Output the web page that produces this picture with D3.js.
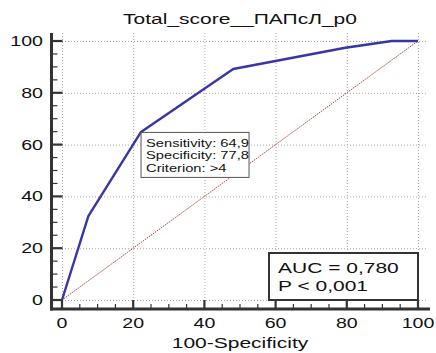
<!DOCTYPE html>
<html>
<head>
<meta charset="utf-8">
<script src="https://cdn.jsdelivr.net/npm/d3@7"></script>
<style>
  html, body { margin: 0; padding: 0; background: #fff; }
  svg { display: block; }
  text { font-family: "Liberation Sans", Arial, sans-serif; fill: #111; }
</style>
</head>
<body>
<svg id="chart" width="436" height="353"></svg>
<script>
// ROC curve points: 100-Specificity (x) and Sensitivity (y)
const fprValues = [0, 7.4, 22.2, 48.1, 79.6, 92.6, 100];
const tprValues = [0, 32.4, 64.9, 89.2, 97.4, 100, 100];
const tickValues = [0, 20, 40, 60, 80, 100];
const titleText = "Total_score__ПАПсЛ_p0";
const xLabelText = "100-Specificity";
const criterionLines = ["Sensitivity: 64,9", "Specificity: 77,8", "Criterion: >4"];
const criterionIndex = 2;
const statLines = ["AUC = 0,780", "P < 0,001"];

const svg = d3.select("#chart");
const SX = 1.4; // horizontal stretch of the lettering

const x = d3.scaleLinear().domain([0, 100]).range([62, 418]);
const y = d3.scaleLinear().domain([0, 100]).range([300, 41]);

const frame = { left: 51.5, right: 430, top: 33, bottom: 309 };
const gridRight = 428;

// Text drawn with a horizontal stretch around its anchor point
function stretchedText(g, tx, ty, str, size, anchor) {
  return g.append("text")
    .attr("transform", `translate(${tx},${ty}) scale(${SX},1)`)
    .attr("text-anchor", anchor || "start")
    .style("font-size", size + "px")
    .text(str);
}

// Dotted grid
const grid = svg.append("g").attr("stroke", "#a8a8a8").attr("stroke-width", 1)
  .attr("stroke-dasharray", "1,2");
grid.selectAll("line.v").data(tickValues).join("line")
  .attr("x1", d => x(d) + 0.5).attr("x2", d => x(d) + 0.5)
  .attr("y1", frame.top).attr("y2", y(0));
grid.selectAll("line.h").data(tickValues).join("line")
  .attr("x1", x(0)).attr("x2", gridRight)
  .attr("y1", d => y(d) + 0.5).attr("y2", d => y(d) + 0.5);

// Axes with inward ticks
const xAxis = d3.axisBottom(x).tickValues(tickValues).tickSize(0).tickFormat("");
const yAxis = d3.axisLeft(y).tickValues(tickValues).tickSize(0).tickFormat("");
svg.append("g").attr("transform", `translate(0,${frame.bottom})`).call(xAxis)
  .call(g => g.select(".domain").remove());
svg.append("g").attr("transform", `translate(${frame.left},0)`).call(yAxis)
  .call(g => g.select(".domain").remove());

const axisColor = "#333";
const minor = d3.range(0, 101, 5).filter(v => v % 20 !== 0);
const ticks = svg.append("g").attr("stroke", axisColor);
ticks.selectAll("line.xmaj").data(tickValues).join("line")
  .attr("x1", d => x(d)).attr("x2", d => x(d))
  .attr("y1", frame.bottom).attr("y2", frame.bottom - 9).attr("stroke-width", 2.2);
ticks.selectAll("line.xmin").data(minor).join("line")
  .attr("x1", d => x(d)).attr("x2", d => x(d))
  .attr("y1", frame.bottom).attr("y2", frame.bottom - 5).attr("stroke-width", 1.2);
ticks.selectAll("line.ymaj").data(tickValues).join("line")
  .attr("x1", frame.left).attr("x2", frame.left + 11)
  .attr("y1", d => y(d)).attr("y2", d => y(d)).attr("stroke-width", 2.2);
ticks.selectAll("line.ymin").data(minor).join("line")
  .attr("x1", frame.left).attr("x2", frame.left + 6)
  .attr("y1", d => y(d)).attr("y2", d => y(d)).attr("stroke-width", 1.2);

svg.append("line").attr("x1", frame.left).attr("x2", frame.left)
  .attr("y1", frame.top).attr("y2", frame.bottom + 1.5)
  .attr("stroke", axisColor).attr("stroke-width", 3);
svg.append("line").attr("x1", frame.left - 1.5).attr("x2", frame.right)
  .attr("y1", frame.bottom).attr("y2", frame.bottom)
  .attr("stroke", axisColor).attr("stroke-width", 3);

// Tick labels
const labels = svg.append("g");
tickValues.forEach(v => {
  stretchedText(labels, x(v), 328, String(v), 14, "middle");
  stretchedText(labels, 43, y(v) + 5, String(v), 14, "end");
});

// Chance diagonal
svg.append("line")
  .attr("x1", x(0)).attr("y1", y(0)).attr("x2", x(100)).attr("y2", y(100))
  .attr("stroke", "#b83a3a").attr("stroke-width", 1)
  .attr("stroke-dasharray", "1.5,1");

// ROC curve
const points = fprValues.map((v, i) => [v, tprValues[i]]);
svg.append("path")
  .datum(points)
  .attr("fill", "none")
  .attr("stroke", "#3636a6")
  .attr("stroke-width", 2.4)
  .attr("stroke-linejoin", "round")
  .attr("d", d3.line().x(d => x(d[0])).y(d => y(d[1])));

// Criterion box anchored at the selected point
const cx = x(fprValues[criterionIndex]), cy = y(tprValues[criterionIndex]);
const crit = svg.append("g");
crit.append("rect")
  .attr("x", cx).attr("y", cy + 0.5)
  .attr("width", 108).attr("height", 45)
  .attr("fill", "#fff").attr("stroke", "#555").attr("stroke-width", 1);
criterionLines.forEach((t, i) => {
  stretchedText(crit, cx + 5, cy + 15 + i * 12.5, t, 10.5, "start");
});

// AUC box
const stat = svg.append("g");
stat.append("rect")
  .attr("x", 269).attr("y", 253)
  .attr("width", x(100) - 269).attr("height", y(0) - 253)
  .attr("fill", "#fff").attr("stroke", "#333").attr("stroke-width", 2);
statLines.forEach((t, i) => {
  stretchedText(stat, 278, 273 + i * 18, t, 15, "start");
});

// Title and axis label
stretchedText(svg, 240, 24, titleText, 15, "middle");
stretchedText(svg, 240, 348, xLabelText, 15, "middle");
</script>
</body>
</html>
